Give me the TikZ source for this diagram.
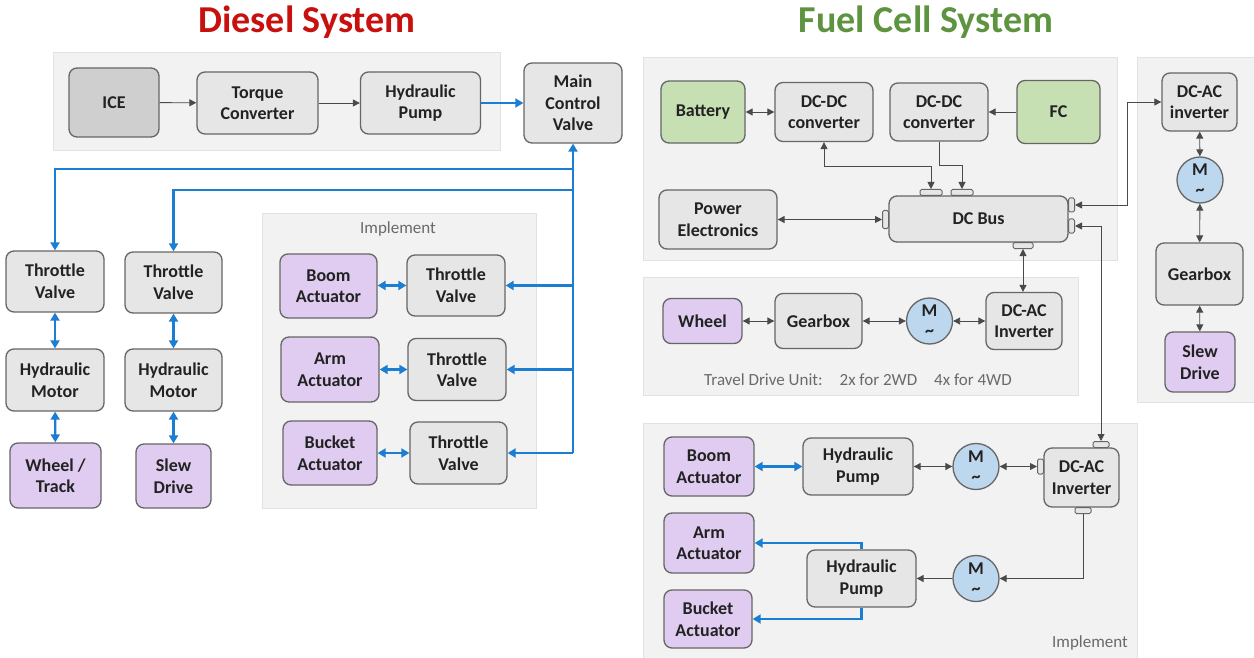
\documentclass[tikz,border=0pt]{standalone}
\usepackage{fontspec}
\setmainfont{Carlito}
\usetikzlibrary{arrows.meta,positioning}
\definecolor{panelbg}{HTML}{F2F2F2}
\definecolor{panelline}{HTML}{E2E2E2}
\definecolor{unitgray}{HTML}{E6E6E6}
\definecolor{icegray}{HTML}{CFCFCF}
\definecolor{boxline}{HTML}{666666}
\definecolor{loadpurple}{HTML}{DFCCF0}
\definecolor{srcgreen}{HTML}{C6E0B4}
\definecolor{motorblue}{HTML}{BDD7EE}
\definecolor{oilblue}{HTML}{1B7ED2}
\definecolor{wire}{HTML}{4A4A4A}
\definecolor{ink}{HTML}{222222}
\definecolor{taggray}{HTML}{6A6A6A}
\definecolor{dieselred}{HTML}{C8100F}
\definecolor{fcgreen}{HTML}{5E9440}
\begin{document}
\begin{tikzpicture}[x=1pt,y=-1pt]
\tikzstyle{panel}=[fill=panelbg,draw=panelline,line width=0.8pt]
\tikzstyle{unit}=[draw=boxline,line width=1.3pt,rounded corners=8pt,fill=unitgray,text=ink,align=center,inner sep=2pt,font=\bfseries\fontsize{18}{21.5}\selectfont]
\tikzstyle{load}=[unit,fill=loadpurple]
\tikzstyle{source}=[unit,fill=srcgreen]
\tikzstyle{motor}=[circle,draw=boxline,line width=1.3pt,fill=motorblue,minimum size=46pt,inner sep=0pt,text=ink,align=center,font=\bfseries\fontsize{18}{20}\selectfont]
\tikzstyle{port}=[draw=boxline,line width=1pt,fill=unitgray,rounded corners=1.5pt,inner sep=0pt]
\tikzstyle{sig}=[draw=wire,line width=0.9pt,>={Triangle[length=7pt,width=7pt]}]
\tikzstyle{oil}=[draw=oilblue,line width=2.4pt,>={Triangle[length=8pt,width=9pt]}]
\tikzstyle{tag}=[text=taggray,font=\fontsize{17}{19}\selectfont]
\useasboundingbox (0,0) rectangle (1254,658);

% ---------------- Diesel system ----------------
\node[font=\bfseries\fontsize{38}{40}\selectfont,text=dieselred] (ttlD) at (307,22) {Diesel System};
\draw[panel] (53,52) rectangle (500,150);
\draw[panel] (262,213) rectangle (536,508);
\node[tag] (implD) at (398,229) {Implement};

\node[unit,fill=icegray,minimum width=90pt,minimum height=69pt] (ice) at (114,102.5) {ICE};
\node[unit,minimum width=121pt,minimum height=62pt] (tc) at (257.5,103) {Torque\\Converter};
\node[unit,minimum width=120pt,minimum height=62pt] (hpd) at (420.5,103) {Hydraulic\\Pump};
\node[unit,minimum width=98pt,minimum height=80pt] (mcv) at (573,103) {Main\\Control\\Valve};

\node[unit,minimum width=98pt,minimum height=61pt] (tv1) at (55,281.5) {Throttle\\Valve};
\node[unit,minimum width=98pt,minimum height=62pt] (hm1) at (55,380) {Hydraulic\\Motor};
\node[load,minimum width=91pt,minimum height=65pt] (wtr) at (55.5,475.5) {Wheel /\\Track};
\node[unit,minimum width=97pt,minimum height=61pt] (tv2) at (173.5,282.5) {Throttle\\Valve};
\node[unit,minimum width=97pt,minimum height=62pt] (hm2) at (173.5,380) {Hydraulic\\Motor};
\node[load,minimum width=75pt,minimum height=64pt] (sdr) at (173.5,476) {Slew\\Drive};

\node[load,minimum width=97pt,minimum height=64pt] (boom) at (328.5,286) {Boom\\Actuator};
\node[unit,minimum width=98pt,minimum height=61pt] (tva) at (456,285.5) {Throttle\\Valve};
\node[load,minimum width=98pt,minimum height=65pt] (arm) at (330,369.5) {Arm\\Actuator};
\node[unit,minimum width=98pt,minimum height=62pt] (tvb) at (457,369.5) {Throttle\\Valve};
\node[load,minimum width=94pt,minimum height=64pt] (bkt) at (330,453) {Bucket\\Actuator};
\node[unit,minimum width=97pt,minimum height=62pt] (tvc) at (458.5,453) {Throttle\\Valve};

\coordinate (j1) at (573,169);
\coordinate (j2) at (573,190);

\draw[sig,->] (ice) -- (tc);
\draw[sig,->] (tc) -- (hpd);
\draw[oil,->] (hpd) -- (mcv);
\draw[oil,->] (tvc.east -| mcv.south) -- (mcv.south);
\draw[oil,->] (j1) -| (tv1.north);
\draw[oil,->] (j2) -| (tv2.north);
\draw[oil,<->] (tv1) -- (hm1);
\draw[oil,<->] (hm1) -- (wtr);
\draw[oil,<->] (tv2) -- (hm2);
\draw[oil,<->] (hm2) -- (sdr);
\draw[oil,<->] (boom.east |- tva.west) -- (tva.west);
\draw[oil,<->] (arm) -- (tvb);
\draw[oil,<->] (bkt) -- (tvc);
\draw[oil,->] (tva.east -| mcv.south) -- (tva.east);
\draw[oil,->] (tvb.east -| mcv.south) -- (tvb.east);
\draw[oil,->] (tvc.east -| mcv.south) -- (tvc.east);

% ---------------- Fuel cell system ----------------
\node[font=\bfseries\fontsize{38}{40}\selectfont,text=fcgreen] (ttlF) at (926,22) {Fuel Cell System};
\draw[panel] (643,57) rectangle (1117,260);
\draw[panel] (643,277) rectangle (1078,395);
\draw[panel] (1137,57) rectangle (1254,402);
\draw[panel] (643,423) rectangle (1137,658);
\node[tag] (travel) at (858,380) {Travel Drive Unit:\quad 2x for 2WD\quad 4x for 4WD};
\node[tag] (implF) at (1090,643) {Implement};

% power train
\node[source,minimum width=84pt,minimum height=62pt] (bat) at (703,112) {Battery};
\node[unit,minimum width=98pt,minimum height=59pt] (dcdc1) at (824,112) {DC-DC\\converter};
\node[unit,minimum width=98pt,minimum height=58pt] (dcdc2) at (939,112) {DC-DC\\converter};
\node[source,minimum width=83pt,minimum height=63pt] (fc) at (1058.5,112) {FC};
\node[unit,minimum width=118pt,minimum height=59pt] (pe) at (718,219.5) {Power\\Electronics};
\node[unit,minimum width=179pt,minimum height=46pt] (dcbus) at (978.5,219) {DC Bus};
\node[port,minimum width=22pt,minimum height=6pt,anchor=south] (pt1) at (931,196) {};
\node[port,minimum width=22pt,minimum height=6pt,anchor=south] (pt2) at (962,196) {};
\node[port,minimum width=6pt,minimum height=18pt,anchor=east] (pl) at (889,219.5) {};
\node[port,minimum width=6pt,minimum height=14pt,anchor=west] (pr1) at (1068,205) {};
\node[port,minimum width=6pt,minimum height=14pt,anchor=west] (pr2) at (1068,226) {};
\node[port,minimum width=20pt,minimum height=6pt,anchor=north] (pb) at (1023,242) {};

% travel drive
\node[load,minimum width=79pt,minimum height=45pt] (whl) at (702.5,321) {Wheel};
\node[unit,minimum width=87pt,minimum height=55pt] (gbx) at (818.5,321) {Gearbox};
\node[motor] (mtr) at (929.5,321) {M\\\textasciitilde};
\node[unit,minimum width=76pt,minimum height=57pt] (dcai) at (1024,321) {DC-AC\\Inverter};

% slew drive
\node[unit,minimum width=75pt,minimum height=58pt] (dcai2) at (1199.5,102) {DC-AC\\inverter};
\node[motor] (mtr2) at (1200,180) {M\\\textasciitilde};
\node[unit,minimum width=87pt,minimum height=62pt] (gbx2) at (1199.5,274) {Gearbox};
\node[load,minimum width=70pt,minimum height=60pt] (sdr2) at (1200,362) {Slew\\Drive};

% implement
\node[load,minimum width=90pt,minimum height=59pt] (boom2) at (709,466.5) {Boom\\Actuator};
\node[unit,minimum width=110pt,minimum height=57pt] (hp1) at (858,466.5) {Hydraulic\\Pump};
\node[motor] (m3) at (976,466.5) {M\\\textasciitilde};
\node[unit,minimum width=75pt,minimum height=59pt] (dcai3) at (1081.5,477.5) {DC-AC\\Inverter};
\node[port,minimum width=6pt,minimum height=15pt,anchor=east] (ql) at (1044,466.5) {};
\node[port,minimum width=16pt,minimum height=6pt,anchor=south] (qt) at (1101,448) {};
\node[port,minimum width=16pt,minimum height=6pt,anchor=north] (qb) at (1083,507) {};
\node[load,minimum width=90pt,minimum height=60pt] (arm2) at (709,543) {Arm\\Actuator};
\node[load,minimum width=88pt,minimum height=58pt] (bkt2) at (708,619) {Bucket\\Actuator};
\node[unit,minimum width=109pt,minimum height=57pt] (hp2) at (861.5,578.5) {Hydraulic\\Pump};
\node[motor] (m4) at (976,578.5) {M\\\textasciitilde};

\coordinate (upx) at (1127,0);

\draw[sig,<->] (bat) -- (dcdc1);
\draw[sig,->] (fc) -- (dcdc2);
\draw[sig,<->] (dcdc1.south) -- ++(0,24) -| (pt1.north);
\draw[sig,->] (dcdc2.south) -- ++(0,24) -| (pt2.north);
\draw[sig,<->] (pe) -- (pl.west);
\draw[sig,<->] (pr1.east) -- (pr1.east -| upx) |- (dcai2.west);
\draw[sig,<->] (pr2.east) -| (qt.north);
\draw[sig,<->] (pb.south) -- (pb.south |- dcai.north);
\draw[sig,<->] (whl) -- (gbx);
\draw[sig,<->] (gbx) -- (mtr);
\draw[sig,<->] (mtr) -- (dcai);
\draw[sig,<->] (dcai2) -- (mtr2);
\draw[sig,<->] (mtr2) -- (gbx2);
\draw[sig,<->] (gbx2) -- (sdr2);
\draw[oil,<->] (boom2) -- (hp1);
\draw[sig,<->] (hp1) -- (m3);
\draw[sig,<->] (m3) -- (ql.west);
\draw[sig,->] (qb.south) |- (m4.east);
\draw[sig,->] (m4) -- (hp2);
\draw[oil,->] (hp2.north) |- (arm2.east);
\draw[oil,->] (hp2.south) |- (bkt2.east);
\end{tikzpicture}
\end{document}
